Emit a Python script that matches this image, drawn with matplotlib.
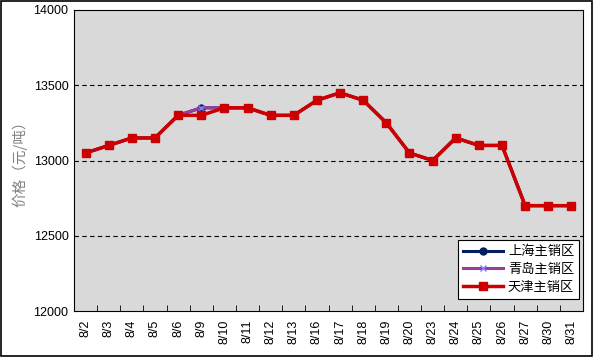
import numpy as np
import matplotlib.pyplot as plt
from matplotlib.ticker import FixedLocator

plt.rcParams['font.family'] = ['Noto Sans CJK SC', 'DejaVu Sans']

dates = ["8/2", "8/3", "8/4", "8/5", "8/6", "8/9", "8/10", "8/11", "8/12", "8/13", "8/16",
         "8/17", "8/18", "8/19", "8/20", "8/23", "8/24", "8/25", "8/26", "8/27", "8/30", "8/31"]
tianjin = [13050, 13100, 13150, 13150, 13300, 13300, 13350, 13350, 13300, 13300, 13400,
           13450, 13400, 13250, 13050, 13000, 13150, 13100, 13100, 12700, 12700, 12700]
qingdao = [13050, 13100, 13150, 13150, 13300, 13350, 13350, 13350, 13300, 13300, 13400,
           13450, 13400, 13250, 13050, 13000, 13150, 13100, 13100, 12700, 12700, 12700]
shanghai = list(qingdao)

fig = plt.figure(figsize=(5.93, 3.57), dpi=100)
ax = fig.add_axes([74 / 593, 1 - 311 / 357, 509 / 593, 301 / 357])
ax.set_facecolor("#d9d9d9")

x = np.arange(len(dates))
ax.plot(x, shanghai, color="#002060", lw=2.2, marker="o", ms=5, label="上海主销区")
ax.plot(x, qingdao, color="#9a3d9a", lw=2.2, marker="x", ms=5, mec="#7f7fff", label="青岛主销区")
ax.plot(x, tianjin, color="#cc0000", lw=2.5, marker="s", ms=6, label="天津主销区")

ax.set_xlim(-0.5, len(dates) - 0.5)
ax.set_ylim(12000, 14000)
ax.set_yticks([12000, 12500, 13000, 13500, 14000])
ax.set_yticklabels(["12000", "12500", "13000", "13500", "14000"], fontsize=9, family="Liberation Sans")
for yv in [12500, 13000, 13500]:
    ax.axhline(yv, color="black", lw=0.8, ls=(0, (4, 3)), zorder=0.5)

ax.set_xticks(x)
ax.set_xticklabels(dates, rotation=90, fontsize=9, family="Liberation Sans")
ax.tick_params(axis="x", length=0, pad=6)
ax.xaxis.set_minor_locator(FixedLocator(np.arange(-0.5, len(dates), 1)))
ax.tick_params(axis="x", which="minor", direction="in", length=4)
ax.tick_params(axis="y", length=0, pad=4)

for s in ax.spines.values():
    s.set_color("black")
    s.set_linewidth(0.8)

ax.set_ylabel("价格（元/吨）", color="#808080", fontsize=10.5, labelpad=4)

leg = ax.legend(loc="lower right", bbox_to_anchor=(0.993, 0.04), fontsize=9.5, frameon=True,
                fancybox=False, edgecolor="black", framealpha=1, handlelength=3,
                borderpad=0.4, labelspacing=0.35, handletextpad=0.4, borderaxespad=0)
leg.get_frame().set_linewidth(0.8)

fig.patches.append(plt.Rectangle((0.002, 0.003), 0.996, 0.994, transform=fig.transFigure,
                                 fill=False, edgecolor="black", lw=1.2))

fig.savefig("out.png", dpi=100)
